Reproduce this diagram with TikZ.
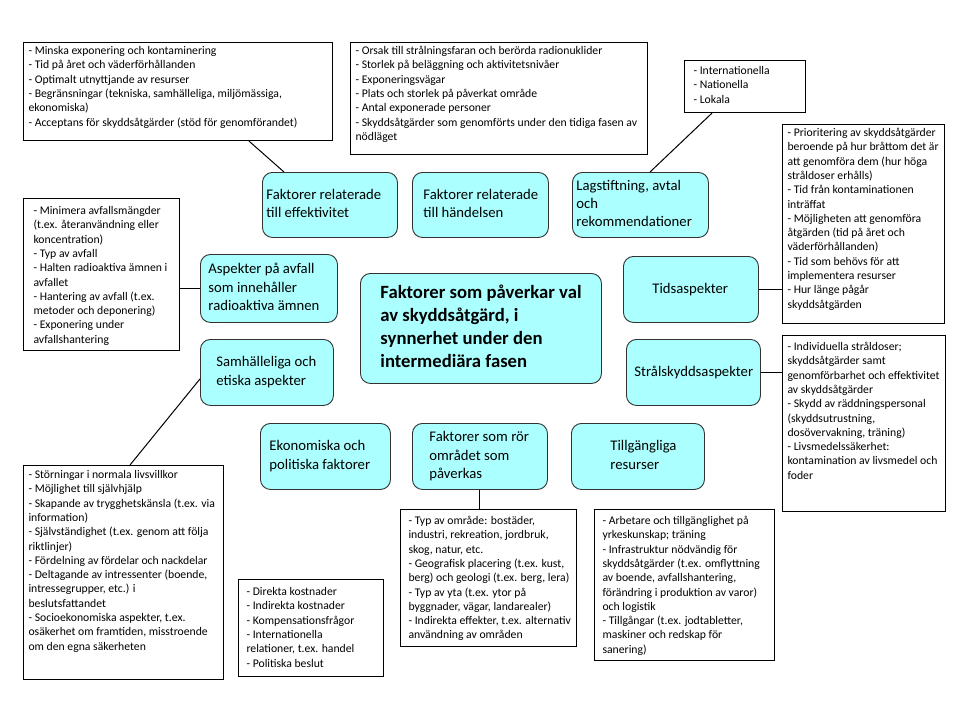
\documentclass[tikz,border=0pt]{standalone}
\usepackage{fontspec}
\setmainfont{Carlito}
\usetikzlibrary{calc}
\definecolor{cyanfill}{RGB}{172,255,255}
\definecolor{nodeborder}{RGB}{50,50,50}
\newcommand{\fsS}{\fontsize{11.7}{14.3}\selectfont}
\newcommand{\fsM}{\fontsize{14.7}{18.3}\selectfont}
\newcommand{\fsL}{\fontsize{18.7}{22.8}\selectfont\bfseries}
\newcommand{\lbl}[3]{\makebox[#1][l]{\hspace*{#2}\begin{tabular}{@{}l@{}}#3\end{tabular}}}
\newcommand{\tbx}[5]{\parbox[c][#2][t]{#1}{\vspace*{#4}\hspace*{#3}\begin{tabular}[t]{@{}l@{}}#5\end{tabular}}}
\tikzset{
  tbox/.style={draw=black, line width=1.1pt, fill=white, inner sep=0pt, anchor=north west, font=\fsS},
  rnode/.style={draw=nodeborder, line width=0.9pt, fill=cyanfill, rounded corners=10pt, inner sep=0pt, anchor=north west, font=\fsM},
  conn/.style={draw=black, line width=1pt}
}
\begin{document}
\begin{tikzpicture}[x=1pt,y=-1pt]
\useasboundingbox (0,0) rectangle (960,720);
\fill[white] (0,0) rectangle (960,720);

% text boxes
\node[tbox] (ta) at (23,42) {\tbx{309pt}{98pt}{5pt}{2pt}{%
- Minska exponering och kontaminering\\
- Tid på året och väderförhållanden\\
- Optimalt utnyttjande av resurser\\
- Begränsningar (tekniska, samhälleliga, miljömässiga,\\
ekonomiska)\\
- Acceptans för skyddsåtgärder (stöd för genomförandet)}};

\node[tbox] (tb) at (350,42) {\tbx{297pt}{112pt}{5pt}{2pt}{%
- Orsak till strålningsfaran och berörda radionuklider\\
- Storlek på beläggning och aktivitetsnivåer\\
- Exponeringsvägar\\
- Plats och storlek på påverkat område\\
- Antal exponerade personer\\
- Skyddsåtgärder som genomförts under den tidiga fasen av\\
nödläget}};

\node[tbox] (tc) at (684,60) {\tbx{121pt}{52pt}{9pt}{4pt}{%
- Internationella\\
- Nationella\\
- Lokala}};

\node[tbox] (td) at (782,124) {\tbx{162pt}{199pt}{5pt}{2pt}{%
- Prioritering av skyddsåtgärder\\
beroende på hur bråttom det är\\
att genomföra dem (hur höga\\
stråldoser erhålls)\\
- Tid från kontaminationen\\
inträffat\\
- Möjligheten att genomföra\\
åtgärden (tid på året och\\
väderförhållanden)\\
- Tid som behövs för att\\
implementera resurser\\
- Hur länge pågår\\
skyddsåtgärden}};

\node[tbox] (te) at (782,335) {\tbx{163pt}{176pt}{5pt}{5pt}{%
- Individuella stråldoser;\\
skyddsåtgärder samt\\
genomförbarhet och effektivitet\\
av skyddsåtgärder\\
- Skydd av räddningspersonal\\
(skyddsutrustning,\\
dosövervakning, träning)\\
- Livsmedelssäkerhet:\\
kontamination av livsmedel och\\
foder}};

\node[tbox] (tf) at (23,198) {\tbx{156pt}{152pt}{10pt}{6pt}{%
- Minimera avfallsmängder\\
(t.ex. återanvändning eller\\
koncentration)\\
- Typ av avfall\\
- Halten radioaktiva ämnen i\\
avfallet\\
- Hantering av avfall (t.ex.\\
metoder och deponering)\\
- Exponering under\\
avfallshantering}};

\node[tbox] (tg) at (23,465) {\tbx{200pt}{214pt}{5pt}{3pt}{%
- Störningar i normala livsvillkor\\
- Möjlighet till självhjälp\\
- Skapande av trygghetskänsla (t.ex. via\\
information)\\
- Självständighet (t.ex. genom att följa\\
riktlinjer)\\
- Fördelning av fördelar och nackdelar\\
- Deltagande av intressenter (boende,\\
intressegrupper, etc.) i\\
beslutsfattandet\\
- Socioekonomiska aspekter, t.ex.\\
osäkerhet om framtiden, misstroende\\
om den egna säkerheten}};

\node[tbox] (th) at (238,579) {\tbx{145pt}{97pt}{8pt}{6pt}{%
- Direkta kostnader\\
- Indirekta kostnader\\
- Kompensationsfrågor\\
- Internationella\\
relationer, t.ex. handel\\
- Politiska beslut}};

\node[tbox] (ti) at (400,509) {\tbx{176pt}{137pt}{8pt}{5pt}{%
- Typ av område: bostäder,\\
industri, rekreation, jordbruk,\\
skog, natur, etc.\\
- Geografisk placering (t.ex. kust,\\
berg) och geologi (t.ex. berg, lera)\\
- Typ av yta (t.ex. ytor på\\
byggnader, vägar, landarealer)\\
- Indirekta effekter, t.ex. alternativ\\
användning av områden}};

\node[tbox] (tj) at (594,509) {\tbx{180pt}{151pt}{8pt}{5pt}{%
- Arbetare och tillgänglighet på\\
yrkeskunskap; träning\\
- Infrastruktur nödvändig för\\
skyddsåtgärder (t.ex. omflyttning\\
av boende, avfallshantering,\\
förändring i produktion av varor)\\
och logistik\\
- Tillgångar (t.ex. jodtabletter,\\
maskiner och redskap för\\
sanering)}};

% rounded nodes
\node[rnode, minimum height=65pt] (n1) at (262,172) {\lbl{135pt}{4pt}{Faktorer relaterade\\till effektivitet}};
\node[rnode, minimum height=65pt] (n2) at (412,172) {\lbl{136pt}{11pt}{Faktorer relaterade\\till händelsen}};
\node[rnode, minimum height=65pt] (n3) at (572,172) {\lbl{136pt}{4pt}{Lagstiftning, avtal\\och\\rekommendationer}};
\node[rnode, minimum height=68pt] (n4) at (200,254) {\lbl{137pt}{8pt}{Aspekter på avfall\\som innehåller\\radioaktiva ämnen}};
\node[rnode, minimum height=110pt, font=\fsL] (nc) at (360,273) {\lbl{241pt}{20pt}{\raisebox{-3pt}{\begin{tabular}{@{}l@{}}Faktorer som påverkar val\\av skyddsåtgärd, i\\synnerhet under den\\intermediära fasen\end{tabular}}}};
\node[rnode, minimum height=66pt] (n5) at (623,256) {\lbl{135pt}{29pt}{Tidsaspekter}};
\node[rnode, minimum height=66pt] (n6) at (200,339) {\lbl{133pt}{16pt}{Samhälleliga och\\etiska aspekter}};
\node[rnode, minimum height=66pt] (n7) at (626,339) {\lbl{134pt}{8pt}{Strålskyddsaspekter}};
\node[rnode, minimum height=66pt] (n8) at (260,423) {\lbl{130pt}{9pt}{Ekonomiska och\\politiska faktorer}};
\node[rnode, minimum height=66pt] (n9) at (412,423) {\lbl{135pt}{17pt}{Faktorer som rör\\området som\\påverkas}};
\node[rnode, minimum height=66pt] (n10) at (571,423) {\lbl{133pt}{39pt}{Tillgängliga\\resurser}};

% connectors
\draw[conn] ($(ta.south west)+(226,0)$) -- ($(n1.north west)+(22,0)$);
\draw[conn] ($(n2.north)+(2,0)$) -- ($(n2.north)+(2,0)$ |- tb.south);
\draw[conn] ($(tc.south west)+(28,0)$) -- ($(n3.north west)+(78,0)$);
\draw[conn] (n5.east) -- (n5.east -| td.west);
\draw[conn] (n7.east) -- (n7.east -| te.west);
\draw[conn] (n4.west) -- (n4.west -| tf.east);
\draw[conn] ($(tg.north west)+(107,0)$) -- ($(n6.south west)+(0,-27)$);
\draw[conn] ($(n8.south)+(-7,0)$) -- ($(n8.south)+(-7,0)$ |- th.north);
\draw[conn] (n9.south) -- (n9.south |- ti.north);
\draw[conn] ($(n10.south)+(-5,0)$) -- ($(n10.south)+(-5,0)$ |- tj.north);
\end{tikzpicture}
\end{document}
